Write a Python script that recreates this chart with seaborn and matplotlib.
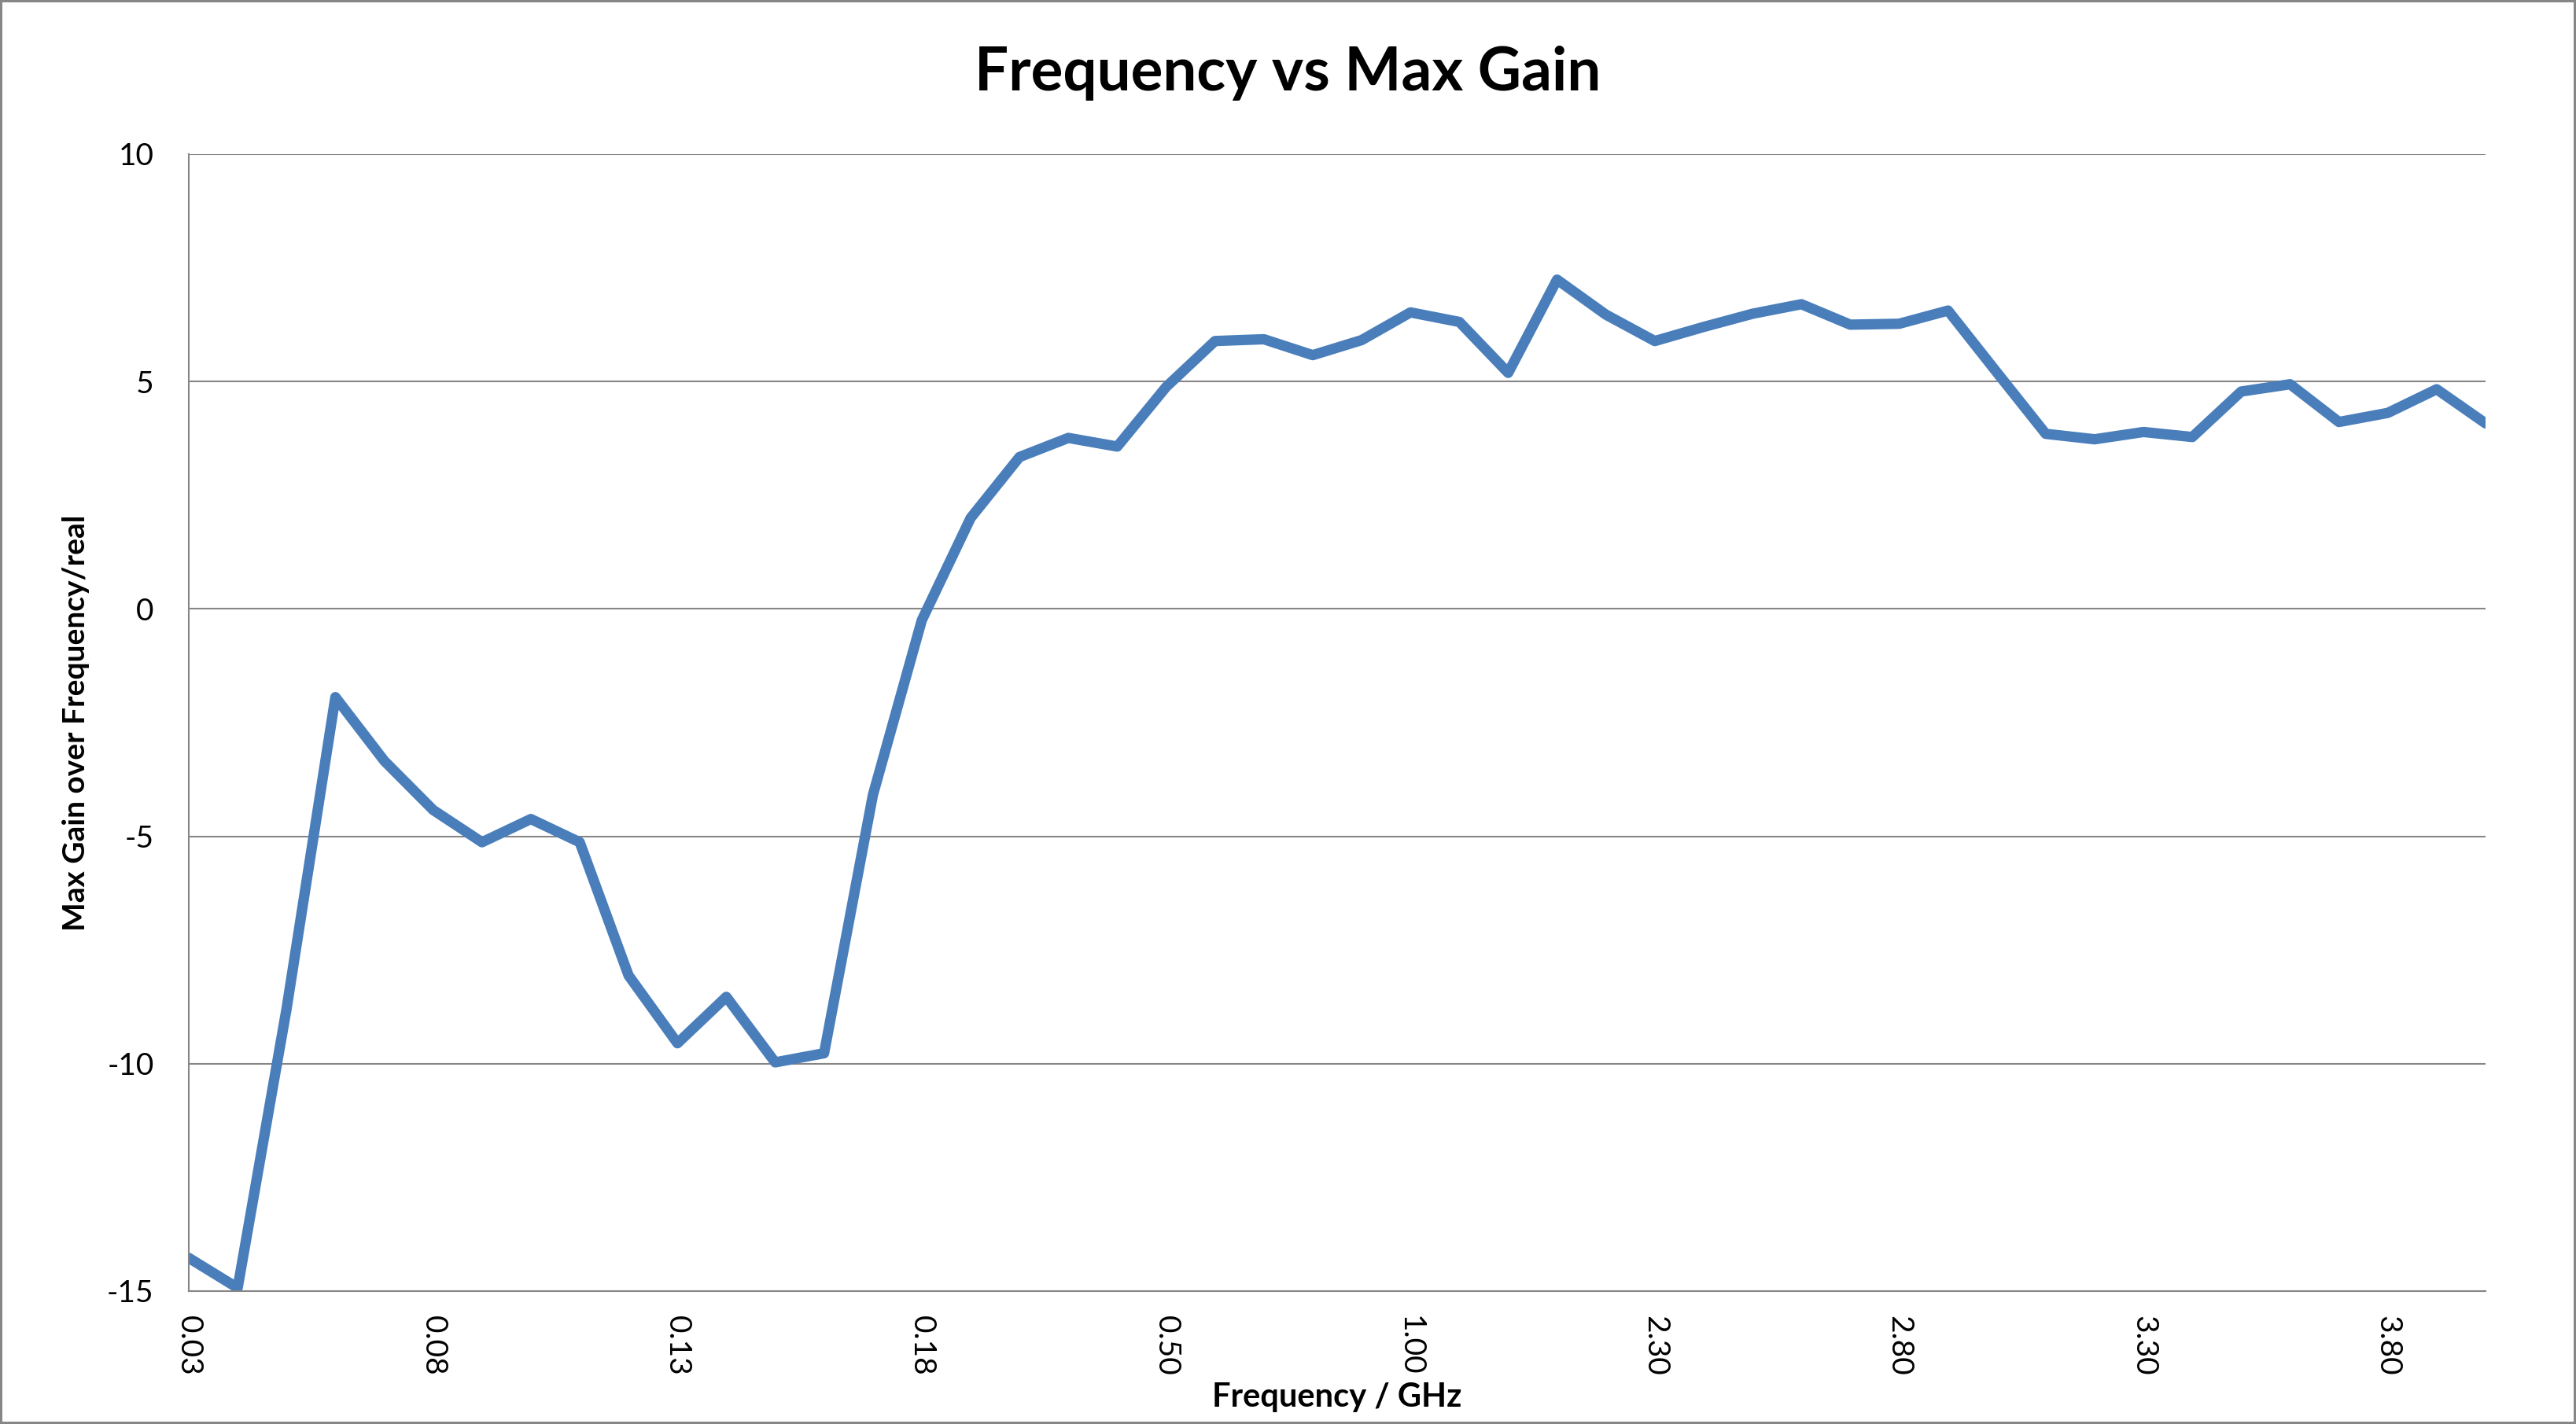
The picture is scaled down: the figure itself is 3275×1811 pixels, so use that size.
import pandas as pd
import seaborn as sns
import matplotlib.pyplot as plt

freq = ['0.03', '0.04', '0.05', '0.06', '0.07', '0.08', '0.09', '0.10', '0.11', '0.12',
        '0.13', '0.14', '0.15', '0.16', '0.17', '0.18', '0.19', '0.20', '0.30', '0.40',
        '0.50', '0.60', '0.70', '0.80', '0.90', '1.00', '1.50', '2.00', '2.10', '2.20',
        '2.30', '2.40', '2.50', '2.60', '2.70', '2.80', '2.90', '3.00', '3.10', '3.20',
        '3.30', '3.40', '3.50', '3.60', '3.70', '3.80', '3.90', '4.00']
gain = [-14.27, -14.93, -8.8, -1.94, -3.34, -4.42, -5.13, -4.62, -5.13, -8.06,
        -9.55, -8.53, -9.97, -9.77, -4.09, -0.25, 2.0, 3.34, 3.76, 3.57,
        4.88, 5.89, 5.93, 5.58, 5.91, 6.52, 6.31, 5.19, 7.24, 6.47,
        5.89, 6.2, 6.49, 6.70, 6.25, 6.27, 6.56, 5.2, 3.85, 3.73,
        3.89, 3.78, 4.78, 4.94, 4.11, 4.31, 4.83, 4.08]
y_ticks = [-15, -10, -5, 0, 5, 10]

df = pd.DataFrame({'pos': range(len(freq)), 'freq': freq, 'gain': gain})

sns.set_style('white')
plt.rcParams['font.family'] = ['Lato', 'DejaVu Sans']
plt.rcParams['text.color'] = 'black'
plt.rcParams['xtick.color'] = 'black'
plt.rcParams['ytick.color'] = 'black'

W, H = 3275, 1811
fig = plt.figure(figsize=(W / 100, H / 100), dpi=100)
fig.patch.set_edgecolor('#868686')
fig.patch.set_linewidth(3)
ax = fig.add_axes([240 / W, 1 - 1642 / H, 2920 / W, 1446 / H])

grey = '#868686'
sns.lineplot(data=df, x='pos', y='gain', ax=ax, color='#4A7EBB', linewidth=9.5)

ax.set_xlim(0, len(freq) - 1)
ax.set_ylim(-15, 10)
ax.set_yticks(y_ticks)
ax.set_yticklabels([str(v) for v in y_ticks], fontsize=28)
ticks = list(range(0, len(freq), 5))
ax.set_xticks(ticks)
ax.set_xticklabels([freq[i] for i in ticks], rotation=270, fontsize=28)
ax.tick_params(axis='both', length=0)
ax.tick_params(axis='y', pad=32)
ax.tick_params(axis='x', pad=22)

ax.yaxis.grid(True, color=grey, linewidth=1.5)
ax.xaxis.grid(False)
for side in ['top', 'right']:
    ax.spines[side].set_visible(False)
for side in ['left', 'bottom']:
    ax.spines[side].set_color(grey)
    ax.spines[side].set_linewidth(1.5)
ax.set_xlabel('')
ax.set_ylabel('')

fig.text(0.5, 1 - 115 / H, 'Frequency vs Max Gain', ha='center', va='baseline',
         fontsize=55, fontweight='bold')
fig.text(1700 / W, 1 - 1777 / H, 'Frequency / GHz', ha='center', va='center',
         fontsize=30, fontweight='bold')
fig.text(97 / W, 1 - 919 / H, 'Max Gain over Frequency/real', ha='center', va='center',
         rotation=90, fontsize=28, fontweight='bold')

fig.savefig('out.png', dpi=100, edgecolor=fig.get_edgecolor())
